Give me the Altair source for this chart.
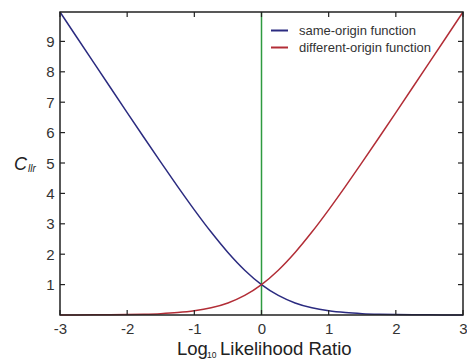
import altair as alt
import pandas as pd

# log10 likelihood ratio grid and Cllr values
log_lr = [-3.0, -2.75, -2.5, -2.25, -2.0, -1.75, -1.5, -1.25, -1.0, -0.75, -0.5, -0.25,
          0.0, 0.25, 0.5, 0.75, 1.0, 1.25, 1.5, 1.75, 2.0, 2.25, 2.5, 2.75, 3.0]
diff_origin = [0.0014, 0.0026, 0.0046, 0.0081, 0.0144, 0.0254, 0.0449, 0.0789, 0.1375,
               0.2361, 0.3964, 0.6437, 1.0, 1.4742, 2.0574, 2.7276, 3.4594, 4.2313,
               5.0278, 5.8388, 6.6582, 7.4824, 8.3094, 9.1379, 9.9672]
same_origin = list(reversed(diff_origin))

series_names = ["same-origin function", "different-origin function"]
series_colors = ["#2b2b80", "#b22d36"]

x_ticks = [-3, -2, -1, 0, 1, 2, 3]
y_ticks = [1, 2, 3, 4, 5, 6, 7, 8, 9]

rows = []
for x, s, d in zip(log_lr, same_origin, diff_origin):
    rows.append({"x": x, "y": s, "series": series_names[0]})
    rows.append({"x": x, "y": d, "series": series_names[1]})
df = pd.DataFrame(rows)

xs = alt.Scale(domain=[-3, 3], nice=False, zero=False)
ys = alt.Scale(domain=[0, 9.9672], nice=False, zero=True)
FONT = "Liberation Sans"

def make_axis(vals):
    return alt.Axis(values=vals, title=None, ticks=False, domain=False,
                    grid=False, labelFont=FONT, labelFontSize=15,
                    labelColor="#333333", labelPadding=6,
                    labelOverlap=False, labelFlush=False,
                    labelExpr="toString(datum.value)")

XA = make_axis(x_ticks)
YA = make_axis(y_ticks)

lines = alt.Chart(df).mark_line(strokeWidth=1.5, interpolate="monotone").encode(
    x=alt.X("x:Q", scale=xs, axis=XA),
    y=alt.Y("y:Q", scale=ys, axis=YA),
    color=alt.Color("series:N", scale=alt.Scale(domain=series_names, range=series_colors),
                    legend=alt.Legend(title=None, orient="none", legendX=210, legendY=9,
                                      symbolType="stroke", symbolSize=289,
                                      symbolStrokeWidth=2, labelFont=FONT,
                                      labelFontSize=13, labelColor="#333333",
                                      rowPadding=0, labelOffset=10)),
    order="x:Q",
)

vline = alt.Chart(pd.DataFrame({"x": [0]})).mark_rule(color="#2e9a40", strokeWidth=1.5).encode(
    x=alt.X("x:Q", scale=xs, axis=XA)
)

xt = pd.DataFrame({"x": x_ticks})
yt = pd.DataFrame({"y": y_ticks})
tick_style = dict(color="#222222", strokeWidth=1.2)
xticks_bottom = alt.Chart(xt).mark_rule(**tick_style).encode(
    x=alt.X("x:Q", scale=xs, axis=XA), y=alt.value(303), y2=alt.value(298))
xticks_top = alt.Chart(xt).mark_rule(**tick_style).encode(
    x=alt.X("x:Q", scale=xs, axis=XA), y=alt.value(0), y2=alt.value(5))
yticks_left = alt.Chart(yt).mark_rule(**tick_style).encode(
    y=alt.Y("y:Q", scale=ys, axis=YA), x=alt.value(0), x2=alt.value(5))
yticks_right = alt.Chart(yt).mark_rule(**tick_style).encode(
    y=alt.Y("y:Q", scale=ys, axis=YA), x=alt.value(403), x2=alt.value(398))

frame = alt.Chart(pd.DataFrame({"a": [0]})).mark_rect(
    fill=None, stroke="#222222", strokeWidth=1.5).encode(
    x=alt.value(0), x2=alt.value(403), y=alt.value(0), y2=alt.value(303))

ytitle_c = alt.Chart(pd.DataFrame({"t": ["C"]})).mark_text(
    font=FONT, fontSize=18, fontStyle="italic", color="#222222", align="left",
    baseline="middle").encode(text="t:N", x=alt.value(-46), y=alt.value(153))
ytitle_sub = alt.Chart(pd.DataFrame({"t": ["llr"]})).mark_text(
    font=FONT, fontSize=10, fontStyle="italic", color="#222222", align="left",
    baseline="middle").encode(text="t:N", x=alt.value(-32), y=alt.value(157))

xtitle_a = alt.Chart(pd.DataFrame({"t": ["Log"]})).mark_text(
    font=FONT, fontSize=18.5, color="#222222", align="left",
    baseline="alphabetic").encode(text="t:N", x=alt.value(117), y=alt.value(343))
xtitle_sub = alt.Chart(pd.DataFrame({"t": ["10"]})).mark_text(
    font=FONT, fontSize=8.5, color="#222222", align="left",
    baseline="alphabetic").encode(text="t:N", x=alt.value(147), y=alt.value(346))
xtitle_b = alt.Chart(pd.DataFrame({"t": ["Likelihood Ratio"]})).mark_text(
    font=FONT, fontSize=18.5, color="#222222", align="left",
    baseline="alphabetic").encode(text="t:N", x=alt.value(160), y=alt.value(343))

chart = alt.layer(
    vline, lines, frame, xticks_bottom, xticks_top, yticks_left, yticks_right,
    ytitle_c, ytitle_sub, xtitle_a, xtitle_sub, xtitle_b
).properties(
    width=403, height=303,
    padding={"left": 60, "top": 12, "right": 4, "bottom": 45},
    autosize=alt.AutoSizeParams(type="none"),
    background="white",
).configure_view(stroke=None).configure_axis(labelOverlap=False)

chart.save("out.html", embed_options={"renderer": "svg", "actions": False})
